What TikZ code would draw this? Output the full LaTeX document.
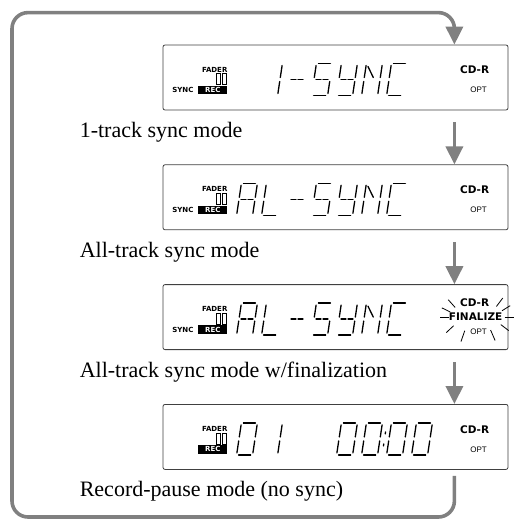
\documentclass[tikz,border=0pt]{standalone}
\usepackage{fontspec}
\setmainfont{Liberation Serif}
\newfontfamily\lcdfont{DejaVu Sans}
\newfontfamily\optfont{Liberation Sans}
\usetikzlibrary{positioning, arrows.meta, calc}

% segments of one display cell (16pt x 32pt)
\newcommand{\sega}{(2pt,32pt) -- (14pt,32pt)}
\newcommand{\segb}{(16pt,30pt) -- (16pt,18pt)}
\newcommand{\segc}{(16pt,14pt) -- (16pt,2pt)}
\newcommand{\segd}{(2pt,0pt) -- (14pt,0pt)}
\newcommand{\sege}{(0pt,2pt) -- (0pt,14pt)}
\newcommand{\segf}{(0pt,18pt) -- (0pt,30pt)}
\newcommand{\segg}{(2pt,16pt) -- (7pt,16pt) (9pt,16pt) -- (14pt,16pt)}
\newcommand{\segn}{(2pt,29pt) -- (9pt,18pt)}
% one character, cell #1 counted from the left of the display
\newcommand{\lcdchar}[2]{%
  \foreach \s in {#2}
    \draw[segline, shift={(74pt+25pt*#1,-18pt)}, xslant=0.15] \csname seg\s\endcsname;}

\begin{document}
\begin{tikzpicture}[
    x=1pt, y=1pt,
    lcd/.style={draw=black!75, line width=0.8pt, rounded corners=2pt, fill=white,
                minimum width=345pt, minimum height=65pt, inner sep=0pt},
    lbl/.style={font=\fontsize{22}{24}\selectfont, anchor=base west, inner sep=0pt},
    tiny/.style={font=\lcdfont\bfseries\fontsize{7}{8}\selectfont, inner sep=0pt},
    badge/.style={tiny, fill=black, text=white, minimum width=29pt, minimum height=8.5pt},
    brand/.style={font=\lcdfont\bfseries\fontsize{10.5}{11}\selectfont, inner sep=0pt},
    optx/.style={font=\optfont\fontsize{8}{9}\selectfont, inner sep=0pt},
    segline/.style={line width=1.3pt, line cap=round},
    flow/.style={line width=3.6pt, black!50, -{Triangle[length=18pt, width=17pt]}},
    ray/.style={line width=0.8pt},
]
\useasboundingbox (0,0) rectangle (515,-526);

% displays
\node[lcd] (lcd1) at (335.5,-77.5) {};
\node[lcd, below=54pt of lcd1] (lcd2) {};
\node[lcd, below=54pt of lcd2] (lcd3) {};
\node[lcd, below=54pt of lcd3] (lcd4) {};

% captions
\node[lbl] (mode1) at ([xshift=-83pt, yshift=-27pt]lcd1.south west) {1-track sync mode};
\node[lbl] (mode2) at ([xshift=-83pt, yshift=-27pt]lcd2.south west) {All-track sync mode};
\node[lbl] (mode3) at ([xshift=-83pt, yshift=-27pt]lcd3.south west) {All-track sync mode w/finalization};
\node[lbl] (mode4) at ([xshift=-83pt, yshift=-27pt]lcd4.south west) {Record-pause mode (no sync)};

% fader and rec indicators
\foreach \b in {lcd1,lcd2,lcd3,lcd4}{
  \begin{scope}[shift={(\b.west)}]
    \node[tiny, anchor=east] (\b-fader) at (65,8) {FADER};
    \draw[line width=0.6pt] (54,-7) rectangle (58,4) (60,-7) rectangle (64,4);
    \node[badge, anchor=east] (\b-rec) at (65,-12.5) {REC};
  \end{scope}
}
\foreach \b in {lcd1,lcd2,lcd3}
  \node[tiny, anchor=east] (\b-sync) at ([xshift=31pt, yshift=-12.5pt]\b.west) {SYNC};

% disc indicators
\foreach \b in {lcd1,lcd2,lcd4}{
  \node[brand] (\b-cdr) at ([xshift=312pt, yshift=7.5pt]\b.west) {CD-R};
  \node[optx] (\b-opt) at ([xshift=316pt, yshift=-12.5pt]\b.west) {OPT};
}
\node[brand] (lcd3-cdr) at ([xshift=312pt, yshift=14pt]lcd3.west) {CD-R};
\node[brand] (lcd3-fin) at ([xshift=313pt]lcd3.west) {FINALIZE};
\node[optx] (lcd3-opt) at ([xshift=316pt, yshift=-15pt]lcd3.west) {OPT};
\begin{scope}[shift={([xshift=314pt]lcd3.west)}]
  \foreach \a in {0,25,45,140,160,180,215,245,300,330}
    \draw[ray] (\a:28pt and 15pt) -- (\a:37pt and 27pt);
\end{scope}

% segment texts
\begin{scope}[shift={(lcd1.west)}]
  \lcdchar{1}{b,c}
  \lcdchar{2}{g}
  \lcdchar{3}{a,f,g,c,d}
  \lcdchar{4}{f,b,g,c,d}
  \lcdchar{5}{f,e,b,c,n}
  \lcdchar{6}{a,f,e,d}
\end{scope}
\foreach \b in {lcd2,lcd3}{
  \begin{scope}[shift={(\b.west)}]
    \lcdchar{0}{a,b,c,e,f,g}
    \lcdchar{1}{f,e,d}
    \lcdchar{2}{g}
    \lcdchar{3}{a,f,g,c,d}
    \lcdchar{4}{f,b,g,c,d}
    \lcdchar{5}{f,e,b,c,n}
    \lcdchar{6}{a,f,e,d}
  \end{scope}
}
\begin{scope}[shift={(lcd4.west)}]
  \lcdchar{0}{a,b,c,d,e,f}
  \lcdchar{1}{b,c}
  \lcdchar{4}{a,b,c,d,e,f}
  \lcdchar{5}{a,b,c,d,e,f}
  \lcdchar{6}{a,b,c,d,e,f}
  \lcdchar{7}{a,b,c,d,e,f}
  \draw[segline, shift={(219.5pt,-18pt)}, xslant=0.15] (0,9) -- (0,11) (0,21) -- (0,23);
\end{scope}

% flow
\draw[flow] ([xshift=-54pt, yshift=-12pt]lcd1.south east) -- ([xshift=-54pt]lcd2.north east);
\draw[flow] ([xshift=-54pt, yshift=-12pt]lcd2.south east) -- ([xshift=-54pt]lcd3.north east);
\draw[flow] ([xshift=-54pt, yshift=-12pt]lcd3.south east) -- ([xshift=-54pt]lcd4.north east);
\draw[flow, rounded corners=16pt] ([xshift=-54pt, yshift=-6pt]lcd4.south east) |- (12,-517)
    |- ([xshift=-54pt, yshift=32pt]lcd1.north east) -- ([xshift=-54pt]lcd1.north east);

\end{tikzpicture}
\end{document}
